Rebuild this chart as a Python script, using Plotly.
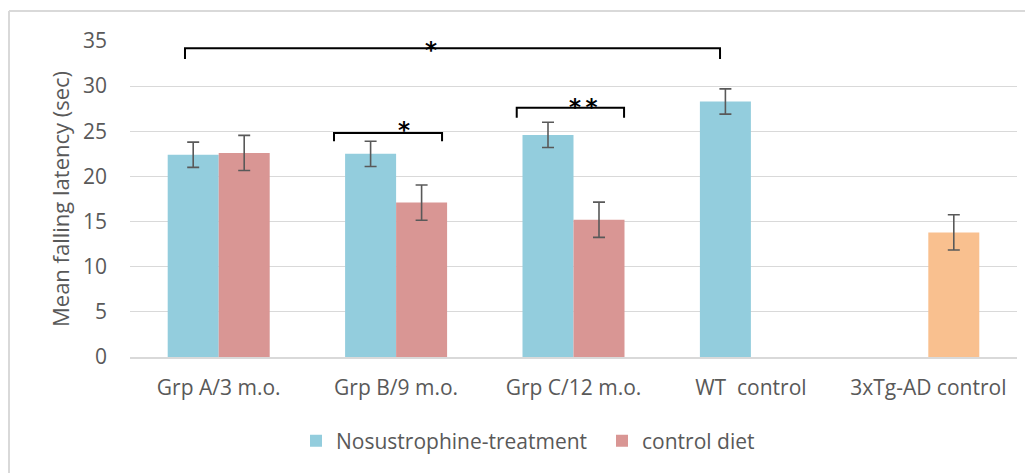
import plotly.graph_objects as go

categories = ["Grp A/3 m.o.", "Grp B/9 m.o.", "Grp C/12 m.o.", "WT\u00a0 control", "3xTg-AD control"]
treatment_vals = [22.4, 22.5, 24.6, 28.3, None]
treatment_err = [1.4, 1.4, 1.4, 1.4, None]
control_vals = [22.6, 17.1, 15.2, None, 13.8]
control_err = [1.95, 1.95, 1.95, None, 1.95]
y_ticks = [0, 5, 10, 15, 20, 25, 30, 35]

# significance brackets: (x0, x1, y_top, y_leg, label, label_x, label_y)
brackets = [
    (-0.19, 2.826, 34.2, 33.0, "*", 1.197, 33.95),
    (0.65, 1.259, 24.8, 23.9, "*", 1.045, 25.1),
    (1.68, 2.285, 27.6, 26.5, "*\u2009*", 2.057, 27.7),
]

BLUE = "#93CDDD"
RED = "#D99694"
ORANGE = "#F9C08F"
TXT = "#595959"
GRID = "#D9D9D9"
FONT = "Open Sans"

OFF = 8  # page body margin offset
W, H = 1033 - OFF, 473 - OFF
ML, MR, MT, MB = 130 - OFF, 16, 41 - OFF, 116
PW, PH = W - ML - MR, H - MT - MB


def px_x(sx):
    return (sx - OFF - ML) / PW


def px_y(sy):
    return (H + OFF - MB - sy) / PH


fig = go.Figure()
fig.add_trace(go.Bar(
    x=list(range(len(categories))), y=treatment_vals, name="Nosustrophine-treatment",
    marker=dict(color=BLUE, line=dict(width=0)),
    error_y=dict(type="data", array=treatment_err, visible=True, color=TXT, thickness=1.6, width=6),
))
fig.add_trace(go.Bar(
    x=list(range(len(categories))), y=control_vals, name="control diet",
    marker=dict(color=[RED, RED, RED, RED, ORANGE], line=dict(width=0)),
    error_y=dict(type="data", array=control_err, visible=True, color=TXT, thickness=1.6, width=6),
))

shapes = []
annotations = []
for x0, x1, yt, yl, lab, lx, ly in brackets:
    shapes.append(dict(type="path", xref="x", yref="y",
                       path=f"M {x0},{yl} L {x0},{yt} L {x1},{yt} L {x1},{yl}",
                       line=dict(color="black", width=2)))
    annotations.append(dict(x=lx, y=ly, xref="x", yref="y", text=f"<b>{lab}</b>", showarrow=False,
                            font=dict(family="DejaVu Sans", size=23, color="black"),
                            xanchor="center", yanchor="middle"))

# chart frame (top and left edges)
shapes.append(dict(type="line", xref="paper", yref="paper", x0=px_x(9), x1=px_x(1040),
                   y0=px_y(11), y1=px_y(11), line=dict(color=GRID, width=2)))
shapes.append(dict(type="line", xref="paper", yref="paper", x0=px_x(9), x1=px_x(9),
                   y0=px_y(11), y1=px_y(480), line=dict(color=GRID, width=2)))

annotations.append(dict(x=px_x(60), y=0.5, xref="paper", yref="paper",
                        text="Mean falling latency (sec)", textangle=-90, showarrow=False,
                        font=dict(family=FONT, size=22, color=TXT),
                        xanchor="center", yanchor="middle"))

fig.update_layout(
    width=W, height=H,
    margin=dict(l=ML, r=MR, t=MT, b=MB),
    paper_bgcolor="white", plot_bgcolor="white",
    barmode="group", bargap=0.425, bargroupgap=0,
    font=dict(family=FONT, size=21, color=TXT),
    showlegend=True,
    legend=dict(orientation="h", x=px_x(296), xanchor="left", y=px_y(441), yanchor="middle",
                font=dict(family=FONT, size=21, color=TXT), itemwidth=30,
                entrywidth=261, entrywidthmode="pixels",
                bgcolor="rgba(0,0,0,0)"),
    shapes=shapes, annotations=annotations,
)
fig.update_xaxes(
    tickmode="array", tickvals=list(range(len(categories))), ticktext=categories,
    range=[-0.5, len(categories) - 0.5], showgrid=False, zeroline=False,
    showline=True, linecolor=GRID, linewidth=1.5, ticks="", ticklabelstandoff=11,
    tickfont=dict(family=FONT, size=21, color=TXT),
)
fig.update_yaxes(
    range=[0, 35], tickvals=y_ticks, showgrid=True, gridcolor=GRID, gridwidth=1.3,
    zeroline=False, showline=False, ticks="", ticklabelstandoff=22,
    tickfont=dict(family=FONT, size=21, color=TXT),
)

fig.write_html("out.html")
